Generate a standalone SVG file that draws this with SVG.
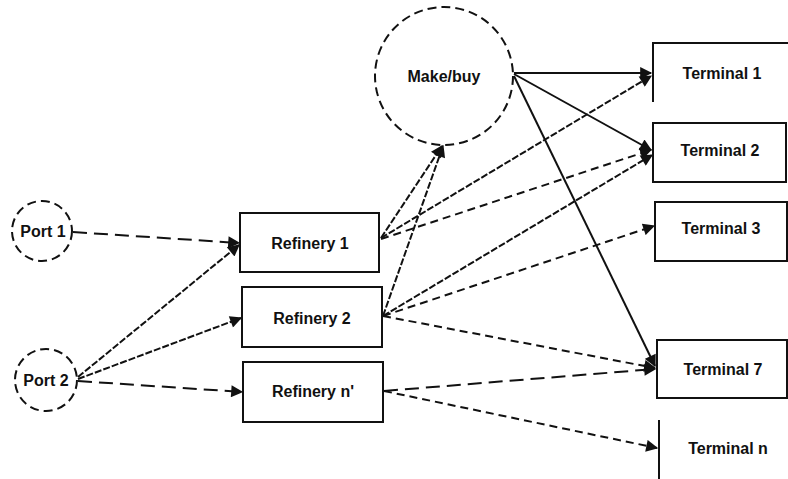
<svg xmlns="http://www.w3.org/2000/svg" width="788" height="479" viewBox="0 0 788 479">
<defs>
<style>
.box{fill:#fff;stroke:#111;stroke-width:2}
.circ{fill:#fff;stroke:#111;stroke-width:2;stroke-dasharray:9 5}
.lbl{font-family:"Liberation Sans",Arial,sans-serif;font-size:16px;font-weight:bold;fill:#111;text-anchor:middle;dominant-baseline:central}
.c{fill:none;stroke:#111;stroke-width:2;marker-end:url(#ah)}
.solid{}
.dash{stroke-dasharray:8 5}
.ldash{stroke-dasharray:14 7}
.dot{stroke-dasharray:7 2}
</style>
<marker id="ah" viewBox="0 0 10 10" refX="9" refY="5" markerWidth="7" markerHeight="6" orient="auto" markerUnits="strokeWidth">
<path d="M0,0 L10,5 L0,10 Z" fill="#111"/>
</marker>
</defs>
<rect width="788" height="479" fill="#fff"/>
<g id="connectors">
<line class="c ldash" x1="73" y1="232" x2="239" y2="243"/>
<line class="c dot" x1="78" y1="377" x2="239" y2="245"/>
<line class="c dot" x1="78" y1="379" x2="241" y2="318"/>
<line class="c ldash" x1="78" y1="381" x2="242" y2="392"/>
<line class="c dot" x1="381" y1="238" x2="442" y2="146"/>
<line class="c dot" x1="383" y1="316" x2="443" y2="146"/>
<line class="c dot" x1="381" y1="238" x2="651" y2="76"/>
<line class="c dash" x1="381" y1="239" x2="651" y2="150"/>
<line class="c dot" x1="383" y1="316" x2="652" y2="155"/>
<line class="c dash" x1="383" y1="316" x2="654" y2="226"/>
<line class="c dash" x1="383" y1="316" x2="655" y2="368"/>
<line class="c ldash" x1="384" y1="391" x2="655" y2="369"/>
<line class="c dash" x1="384" y1="391" x2="657" y2="448"/>
<line class="c solid" x1="514" y1="73" x2="651" y2="73"/>
<line class="c solid" x1="514" y1="74" x2="651" y2="150"/>
<line class="c solid" x1="514" y1="76" x2="655" y2="366"/>
</g>
<g id="port1"><circle class="circ" cx="42" cy="231" r="30"/><text class="lbl" x="43" y="231">Port 1</text></g>
<g id="port2"><circle class="circ" cx="46" cy="380" r="31"/><text class="lbl" x="46" y="380">Port 2</text></g>
<g id="makebuy"><circle class="circ" cx="444" cy="76" r="69"/><text class="lbl" x="444" y="76">Make/buy</text></g>
<g id="refinery1"><rect class="box" x="240" y="213" width="139" height="59"/><text class="lbl" x="310" y="243">Refinery 1</text></g>
<g id="refinery2"><rect class="box" x="242" y="287" width="140" height="60"/><text class="lbl" x="312" y="318">Refinery 2</text></g>
<g id="refineryn"><rect class="box" x="243" y="362" width="140" height="60"/><text class="lbl" x="313" y="391">Refinery n'</text></g>
<g id="terminal1"><path d="M653,102 V43 H788" fill="none" stroke="#111" stroke-width="2"/><text class="lbl" x="722" y="73">Terminal 1</text></g>
<g id="terminal2"><rect class="box" x="653" y="123" width="133" height="59"/><text class="lbl" x="720" y="150">Terminal 2</text></g>
<g id="terminal3"><rect class="box" x="655" y="202" width="132" height="59"/><text class="lbl" x="721" y="228">Terminal 3</text></g>
<g id="terminal7"><rect class="box" x="657" y="340" width="130" height="58"/><text class="lbl" x="723" y="369">Terminal 7</text></g>
<g id="terminaln"><path d="M659,420 V479" fill="none" stroke="#111" stroke-width="2"/><text class="lbl" x="728" y="448">Terminal n</text></g>
</svg>
